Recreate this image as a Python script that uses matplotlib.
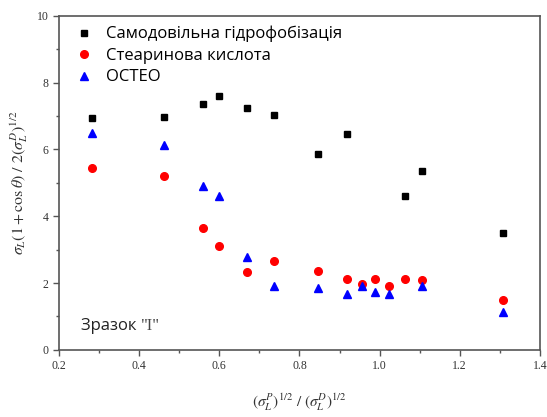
import matplotlib
matplotlib.use("Agg")
import matplotlib.pyplot as plt
from matplotlib.ticker import MultipleLocator, FormatStrFormatter

plt.rcParams['mathtext.fontset'] = 'stix'

# Series data
x_self = [0.282, 0.461, 0.560, 0.598, 0.668, 0.736, 0.846, 0.918, 1.063, 1.107, 1.309]
y_self = [6.93, 6.96, 7.36, 7.60, 7.24, 7.02, 5.87, 6.47, 4.61, 5.35, 3.51]

x_stear = [0.282, 0.461, 0.560, 0.598, 0.668, 0.736, 0.846, 0.918, 0.956, 0.988, 1.024, 1.063, 1.107, 1.309]
y_stear = [5.45, 5.22, 3.65, 3.11, 2.34, 2.65, 2.37, 2.12, 1.96, 2.11, 1.92, 2.12, 2.09, 1.49]

x_osteo = [0.282, 0.461, 0.560, 0.598, 0.668, 0.736, 0.846, 0.918, 0.956, 0.988, 1.024, 1.107, 1.309]
y_osteo = [6.50, 6.14, 4.90, 4.60, 2.77, 1.91, 1.84, 1.67, 1.92, 1.73, 1.66, 1.92, 1.14]

labels = ["Самодовільна гідрофобізація", "Стеаринова кислота", "ОСТЕО"]

fig = plt.figure(figsize=(5.47, 4.17), dpi=100)
ax = fig.add_axes([0.108, 0.161, 0.879, 0.801])

ax.plot(x_self, y_self, ls='none', marker='s', ms=5, color='black', label=labels[0])
ax.plot(x_stear, y_stear, ls='none', marker='o', ms=5.5, color='#ff0000', label=labels[1])
ax.plot(x_osteo, y_osteo, ls='none', marker='^', ms=6, color='#0000ff', label=labels[2])

ax.set_xlim(0.2, 1.4)
ax.set_ylim(0, 10)
ax.xaxis.set_major_locator(MultipleLocator(0.2))
ax.xaxis.set_minor_locator(MultipleLocator(0.1))
ax.yaxis.set_major_locator(MultipleLocator(2))
ax.yaxis.set_minor_locator(MultipleLocator(1))
ax.xaxis.set_major_formatter(FormatStrFormatter('%.1f'))
ax.yaxis.set_major_formatter(FormatStrFormatter('%d'))

for sp in ax.spines.values():
    sp.set_color('#555555')
    sp.set_linewidth(1.2)

ax.tick_params(which='major', direction='out', length=4, width=1, colors='#555555',
               labelcolor='#333333', labelsize=8.5, labelfontfamily='Liberation Serif')
ax.tick_params(which='minor', direction='out', length=2.5, width=1, colors='#555555')

ax.set_xlabel(r'$(\sigma_L^P)^{1/2}\ /\ (\sigma_L^D)^{1/2}$', fontsize=11, color='#333333', labelpad=14)
ax.set_ylabel(r'$\sigma_L(1 + \cos\theta)\ /\ 2(\sigma_L^D)^{1/2}$', fontsize=11.5, color='#333333', labelpad=5)

leg = ax.legend(loc='upper left', frameon=False, prop={'family': 'Open Sans', 'size': 12},
                handletextpad=0.9, labelspacing=0.33, borderaxespad=0.2, handlelength=0.8,
                bbox_to_anchor=(0.017, 1.0))

# Sample label: Cyrillic word in sans, the sample numeral in serif
t = ax.text(0.045, 0.06, 'Зразок ', transform=ax.transAxes, fontsize=12,
            family='Open Sans', color='#222222')
ax.annotate('"I"', xy=(1, 0), xycoords=t, fontsize=12, family='Liberation Serif',
            color='#444444', va='bottom', ha='left')

fig.savefig('out.png', dpi=100)
